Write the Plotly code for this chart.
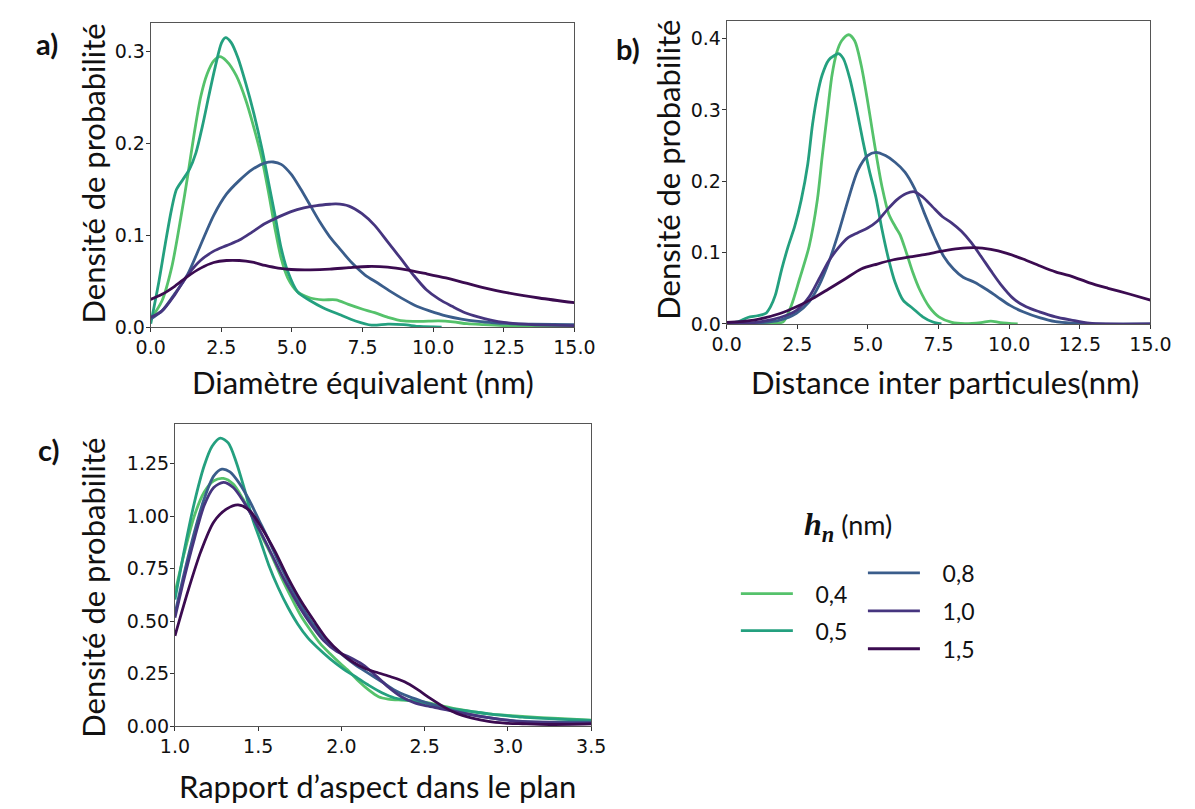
import plotly.graph_objects as go

# ---------------- data ----------------
names = ["0,4", "0,5", "0,8", "1,0", "1,5"]
colors = ["#55c26b", "#24a07f", "#3a5d8b", "#46357f", "#3b0b50"]

# panel a : Diamètre équivalent
a_x_04 = [0, 0.4, 0.74, 1.08, 1.31, 1.54, 1.77, 2.0, 2.23, 2.45, 2.68, 3.03, 3.37, 3.71, 3.94, 4.17, 4.4, 4.62, 4.85, 5.19, 5.65, 6.1, 6.56, 7.0, 7.48, 7.93, 8.4, 8.96, 9.53, 10.2, 10.7, 11.2, 11.8, 12.5, 13.5, 15.0]
a_y_04 = [0.009, 0.029, 0.065, 0.122, 0.165, 0.211, 0.251, 0.276, 0.290, 0.2946, 0.290, 0.274, 0.247, 0.211, 0.183, 0.147, 0.1075, 0.075, 0.054, 0.039, 0.032, 0.030, 0.030, 0.025, 0.020, 0.016, 0.011, 0.007, 0.0065, 0.007, 0.006, 0.004, 0.003, 0.002, 0.001, 0.0005]
a_x_05 = [0, 0.29, 0.51, 0.74, 0.91, 1.14, 1.37, 1.6, 1.83, 2.05, 2.28, 2.51, 2.65, 2.85, 3.08, 3.37, 3.65, 3.94, 4.17, 4.4, 4.62, 4.85, 5.19, 5.65, 6.1, 6.68, 7.25, 7.82, 8.4, 8.96, 9.53, 10.3]
a_y_05 = [0.004, 0.05, 0.09, 0.129, 0.15, 0.161, 0.172, 0.19, 0.219, 0.251, 0.283, 0.31, 0.3154, 0.31, 0.294, 0.265, 0.233, 0.194, 0.158, 0.122, 0.086, 0.061, 0.039, 0.029, 0.0215, 0.014, 0.007, 0.0025, 0.0036, 0.003, 0.001, 0.0003]
a_x_08 = [0, 0.4, 0.86, 1.31, 1.77, 2.23, 2.68, 3.14, 3.6, 4.05, 4.34, 4.62, 4.97, 5.31, 5.65, 5.99, 6.34, 6.68, 7.13, 7.59, 8.05, 8.5, 8.96, 9.42, 9.87, 10.45, 11.0, 11.6, 12.16, 12.5, 13.5, 15.0]
a_y_08 = [0.009, 0.018, 0.037, 0.058, 0.09, 0.122, 0.145, 0.16, 0.172, 0.179, 0.18, 0.1774, 0.1667, 0.1505, 0.1326, 0.1147, 0.0986, 0.086, 0.070, 0.057, 0.048, 0.039, 0.0305, 0.023, 0.018, 0.0125, 0.009, 0.0065, 0.005, 0.0043, 0.0035, 0.003]
a_x_10 = [0, 0.4, 0.86, 1.31, 1.77, 2.23, 2.68, 3.14, 3.6, 4.05, 4.51, 4.97, 5.42, 5.88, 6.34, 6.56, 7.02, 7.48, 7.93, 8.39, 8.85, 9.3, 9.76, 10.22, 10.67, 11.13, 11.59, 12.04, 12.5, 13.5, 15.0]
a_y_10 = [0.011, 0.018, 0.036, 0.057, 0.073, 0.083, 0.089, 0.095, 0.104, 0.113, 0.12, 0.126, 0.13, 0.1326, 0.134, 0.1344, 0.132, 0.1237, 0.111, 0.093, 0.075, 0.057, 0.041, 0.0305, 0.023, 0.016, 0.0115, 0.008, 0.0054, 0.003, 0.002]
a_x_15 = [0, 0.4, 0.86, 1.31, 1.77, 2.23, 2.68, 3.14, 3.6, 4.05, 4.51, 4.97, 5.65, 6.34, 7.02, 7.7, 8.39, 9.07, 9.76, 10.45, 11.13, 11.81, 12.5, 13.75, 15.0]
a_y_15 = [0.0305, 0.036, 0.045, 0.0556, 0.0645, 0.0706, 0.0728, 0.0728, 0.071, 0.0674, 0.0645, 0.063, 0.0627, 0.0634, 0.065, 0.0663, 0.0656, 0.0627, 0.0584, 0.0538, 0.0484, 0.043, 0.0384, 0.032, 0.0269]

# panel b : Distance inter particules
b_x_04 = [0, 1.0, 1.6, 2.0, 2.29, 2.58, 2.92, 3.21, 3.38, 3.56, 3.73, 3.9, 4.07, 4.32, 4.53, 4.76, 4.99, 5.16, 5.33, 5.5, 5.73, 5.96, 6.14, 6.36, 6.59, 6.82, 7.17, 7.51, 7.97, 8.43, 9.0, 9.35, 9.69, 10.3]
b_y_04 = [0.0, 0.0005, 0.001, 0.003, 0.026, 0.063, 0.109, 0.174, 0.234, 0.294, 0.349, 0.381, 0.397, 0.4055, 0.397, 0.363, 0.312, 0.27, 0.229, 0.192, 0.155, 0.137, 0.125, 0.1, 0.072, 0.049, 0.024, 0.01, 0.0023, 0.0005, 0.002, 0.004, 0.002, 0.0]
b_x_05 = [0, 0.4, 0.75, 1.09, 1.38, 1.55, 1.72, 1.95, 2.18, 2.41, 2.64, 2.87, 3.04, 3.21, 3.38, 3.61, 3.84, 3.96, 4.13, 4.36, 4.59, 4.82, 5.05, 5.28, 5.5, 5.73, 5.96, 6.25, 6.59, 6.94, 7.28, 7.6]
b_y_05 = [0.001, 0.003, 0.009, 0.0115, 0.0147, 0.024, 0.04, 0.077, 0.109, 0.137, 0.174, 0.224, 0.28, 0.321, 0.349, 0.37, 0.377, 0.379, 0.372, 0.344, 0.303, 0.257, 0.215, 0.178, 0.132, 0.091, 0.0585, 0.033, 0.0217, 0.01, 0.003, 0.0]
b_x_08 = [0, 0.97, 1.89, 2.47, 2.92, 3.27, 3.61, 3.96, 4.3, 4.64, 4.99, 5.28, 5.62, 5.96, 6.31, 6.65, 7.0, 7.34, 7.68, 8.03, 8.37, 8.77, 9.17, 9.58, 10.03, 10.49, 11.07, 11.64, 12.33, 12.84, 15.0]
b_y_08 = [0.0, 0.001, 0.0055, 0.015, 0.031, 0.054, 0.086, 0.128, 0.174, 0.215, 0.236, 0.2406, 0.236, 0.2267, 0.213, 0.19, 0.155, 0.123, 0.095, 0.077, 0.0654, 0.0585, 0.049, 0.038, 0.026, 0.017, 0.0088, 0.0032, 0.001, 0.0, 0.0]
b_x_10 = [0, 0.97, 1.89, 2.47, 2.92, 3.27, 3.61, 3.96, 4.3, 4.64, 4.99, 5.33, 5.68, 6.02, 6.36, 6.65, 6.94, 7.28, 7.63, 7.97, 8.31, 8.66, 9.0, 9.35, 9.69, 10.15, 10.6, 11.07, 11.64, 12.2, 12.84, 13.5, 15.0]
b_y_10 = [0.001, 0.002, 0.009, 0.019, 0.038, 0.063, 0.088, 0.107, 0.121, 0.128, 0.1345, 0.144, 0.16, 0.174, 0.183, 0.1853, 0.178, 0.1645, 0.1507, 0.1415, 0.13, 0.114, 0.095, 0.0747, 0.056, 0.0355, 0.024, 0.017, 0.01, 0.0055, 0.001, 0.0, 0.0]
b_x_15 = [0, 0.97, 1.89, 2.47, 3.04, 3.61, 4.19, 4.76, 5.33, 5.9, 6.48, 7.05, 7.63, 8.2, 8.77, 9.35, 9.92, 10.49, 11.07, 11.64, 12.21, 12.84, 13.5, 14.25, 15.0]
b_y_15 = [0.0023, 0.0055, 0.0147, 0.024, 0.0355, 0.049, 0.063, 0.077, 0.084, 0.09, 0.094, 0.0977, 0.102, 0.1055, 0.107, 0.1046, 0.099, 0.091, 0.0816, 0.073, 0.0668, 0.0576, 0.05, 0.042, 0.0335]

# panel c : Rapport d'aspect dans le plan
c_x_04 = [1.0, 1.058, 1.117, 1.175, 1.233, 1.291, 1.35, 1.408, 1.466, 1.524, 1.583, 1.641, 1.7, 1.757, 1.816, 1.874, 1.932, 1.99, 2.049, 2.107, 2.165, 2.223, 2.28, 2.36, 2.437, 2.515, 2.592, 2.689, 2.786, 2.883, 2.98, 3.087, 3.3, 3.5]
c_y_04 = [0.635, 0.831, 1.003, 1.113, 1.168, 1.179, 1.152, 1.082, 0.995, 0.901, 0.807, 0.705, 0.611, 0.525, 0.455, 0.392, 0.345, 0.301, 0.259, 0.212, 0.172, 0.141, 0.13, 0.125, 0.122, 0.113, 0.1, 0.083, 0.07, 0.06, 0.053, 0.047, 0.038, 0.03]
c_x_05 = [1.0, 1.058, 1.117, 1.175, 1.223, 1.272, 1.32, 1.369, 1.417, 1.466, 1.515, 1.563, 1.621, 1.68, 1.738, 1.796, 1.854, 1.932, 2.01, 2.087, 2.165, 2.243, 2.32, 2.398, 2.476, 2.553, 2.631, 2.709, 2.786, 2.883, 2.98, 3.087, 3.3, 3.5]
c_y_05 = [0.603, 0.846, 1.066, 1.238, 1.332, 1.371, 1.348, 1.254, 1.129, 0.987, 0.878, 0.768, 0.658, 0.564, 0.486, 0.423, 0.376, 0.321, 0.274, 0.235, 0.195, 0.16, 0.135, 0.125, 0.115, 0.1, 0.088, 0.078, 0.07, 0.06, 0.052, 0.044, 0.035, 0.028]
c_x_08 = [1.0, 1.058, 1.117, 1.175, 1.233, 1.282, 1.33, 1.39, 1.447, 1.505, 1.563, 1.621, 1.68, 1.738, 1.796, 1.854, 1.932, 2.01, 2.087, 2.165, 2.243, 2.32, 2.398, 2.476, 2.553, 2.631, 2.709, 2.786, 2.883, 2.98, 3.087, 3.3, 3.5]
c_y_08 = [0.536, 0.737, 0.925, 1.081, 1.191, 1.223, 1.21, 1.152, 1.074, 0.98, 0.886, 0.784, 0.69, 0.603, 0.525, 0.462, 0.392, 0.337, 0.29, 0.251, 0.212, 0.172, 0.144, 0.122, 0.102, 0.083, 0.067, 0.055, 0.042, 0.031, 0.0235, 0.02, 0.02]
c_x_10 = [1.0, 1.058, 1.117, 1.175, 1.233, 1.291, 1.35, 1.408, 1.466, 1.524, 1.583, 1.641, 1.7, 1.757, 1.816, 1.893, 1.971, 2.049, 2.126, 2.204, 2.28, 2.36, 2.437, 2.515, 2.592, 2.689, 2.786, 2.883, 2.98, 3.087, 3.3, 3.5]
c_y_10 = [0.517, 0.713, 0.893, 1.05, 1.136, 1.16, 1.136, 1.074, 0.995, 0.909, 0.815, 0.721, 0.635, 0.556, 0.486, 0.408, 0.357, 0.329, 0.295, 0.243, 0.188, 0.141, 0.113, 0.097, 0.085, 0.069, 0.055, 0.042, 0.031, 0.022, 0.017, 0.015]
c_x_15 = [1.0, 1.078, 1.155, 1.233, 1.311, 1.379, 1.447, 1.524, 1.602, 1.68, 1.757, 1.835, 1.913, 1.99, 2.068, 2.146, 2.223, 2.3, 2.379, 2.456, 2.534, 2.612, 2.689, 2.786, 2.883, 2.98, 3.087, 3.25, 3.5]
c_y_15 = [0.431, 0.643, 0.831, 0.972, 1.034, 1.053, 1.027, 0.94, 0.831, 0.705, 0.596, 0.502, 0.415, 0.353, 0.306, 0.274, 0.254, 0.235, 0.212, 0.176, 0.133, 0.094, 0.063, 0.039, 0.0235, 0.0157, 0.0125, 0.009, 0.012]

a_ticks = [0, 2.5, 5.0, 7.5, 10.0, 12.5, 15.0]
a_yticks = [0, 0.1, 0.2, 0.3]
b_yticks = [0, 0.1, 0.2, 0.3, 0.4]
c_ticks = [1.0, 1.5, 2.0, 2.5, 3.0, 3.5]
c_yticks = [0, 0.25, 0.5, 0.75, 1.0, 1.25]

# ---------------- figure ----------------
W, H = 1195, 809
def px(x):
    return x / W
def py(y):
    return 1 - y / H

fig = go.Figure()

panels = [
    ("x", "y", [(a_x_04, a_y_04), (a_x_05, a_y_05), (a_x_08, a_y_08), (a_x_10, a_y_10), (a_x_15, a_y_15)]),
    ("x2", "y2", [(b_x_04, b_y_04), (b_x_05, b_y_05), (b_x_08, b_y_08), (b_x_10, b_y_10), (b_x_15, b_y_15)]),
    ("x3", "y3", [(c_x_04, c_y_04), (c_x_05, c_y_05), (c_x_08, c_y_08), (c_x_10, c_y_10), (c_x_15, c_y_15)]),
]
legend_of = ["legend", "legend", "legend2", "legend2", "legend2"]
pad = "\u00a0\u00a0\u00a0"

for pi, (xa, ya, series) in enumerate(panels):
    for si, (xs, ys) in enumerate(series):
        fig.add_trace(go.Scatter(
            x=xs, y=ys, mode="lines", name=pad + names[si],
            line=dict(color=colors[si], width=2.8, shape="spline", smoothing=0.8),
            xaxis=xa, yaxis=ya,
            legendgroup=names[si], legend=legend_of[si],
            showlegend=(pi == 0), hoverinfo="skip",
        ))

tickfont = dict(family="DejaVu Sans", size=19, color="#111111")
axis_common = dict(showline=True, mirror=True, linecolor="#555555", linewidth=1,
                   ticks="outside", ticklen=4, tickwidth=1, tickcolor="#333333",
                   showgrid=False, zeroline=False, tickfont=tickfont)
xax = dict(ticklabelstandoff=-1, **axis_common)
yax = dict(ticklabelstandoff=-3, **axis_common)

fig.update_layout(
    width=W, height=H, margin=dict(l=0, r=0, t=0, b=0),
    paper_bgcolor="white", plot_bgcolor="white",
    xaxis=dict(domain=[px(131.7), px(568.5)], range=[0, 15], tickvals=a_ticks, tickformat=".1f", anchor="y", **xax),
    yaxis=dict(domain=[py(323.8), py(15)], range=[0, 0.3315], tickvals=a_yticks, tickformat=".1f", anchor="x", **yax),
    xaxis2=dict(domain=[px(725.5), px(1162.5)], range=[0, 15], tickvals=a_ticks, tickformat=".1f", anchor="y2", **xax),
    yaxis2=dict(domain=[py(320.3), py(13)], range=[0, 0.425], tickvals=b_yticks, tickformat=".1f", anchor="x2", **yax),
    xaxis3=dict(domain=[px(156.7), px(585.8)], range=[1.0, 3.5], tickvals=c_ticks, tickformat=".1f", anchor="y3", **xax),
    yaxis3=dict(domain=[py(728.3), py(421.7)], range=[0, 1.438], tickvals=c_yticks, tickformat=".2f", anchor="x3", **yax),
    legend=dict(x=px(735), y=py(572), xanchor="left", yanchor="top", traceorder="grouped",
                tracegroupgap=4, font=dict(family="Lato", size=23, color="#111111"),
                bgcolor="rgba(0,0,0,0)", itemwidth=52),
    legend2=dict(x=px(866), y=py(551), xanchor="left", yanchor="top", traceorder="grouped",
                 tracegroupgap=5, font=dict(family="Lato", size=23, color="#111111"),
                 bgcolor="rgba(0,0,0,0)", itemwidth=52),
    showlegend=True,
)

title_font = dict(family="Lato", size=31, color="#111111")
label_font = dict(family="Lato", size=29, color="#111111")
ann = []
def add_text(text, x, y, font, angle=0):
    ann.append(dict(text=text, x=px(x), y=py(y), xref="paper", yref="paper",
                    xanchor="center", yanchor="middle", showarrow=False,
                    font=font, textangle=angle))

add_text("Diamètre équivalent (nm)", 351, 379, title_font)
add_text("Distance inter particules(nm)", 951, 379, title_font)
add_text("Rapport d’aspect dans le plan", 365, 789, title_font)
add_text("Densité de probabilité", 72, 168, title_font, -90)
add_text("Densité de probabilité", 665, 164, title_font, -90)
add_text("Densité de probabilité", 72, 588, title_font, -90)
add_text("<b>a)</b>", 25, 36, label_font)
add_text("<b>b)</b>", 624, 41, label_font)
add_text("<b>c)</b>", 26, 448, label_font)
add_text('<span style="font-family:Liberation Serif;font-size:32px"><b><i>h<sub>n</sub></i></b></span> (nm)',
         851, 526, dict(family="Lato", size=27, color="#111111"))
fig.update_layout(annotations=ann)

fig.write_html("out.html")
